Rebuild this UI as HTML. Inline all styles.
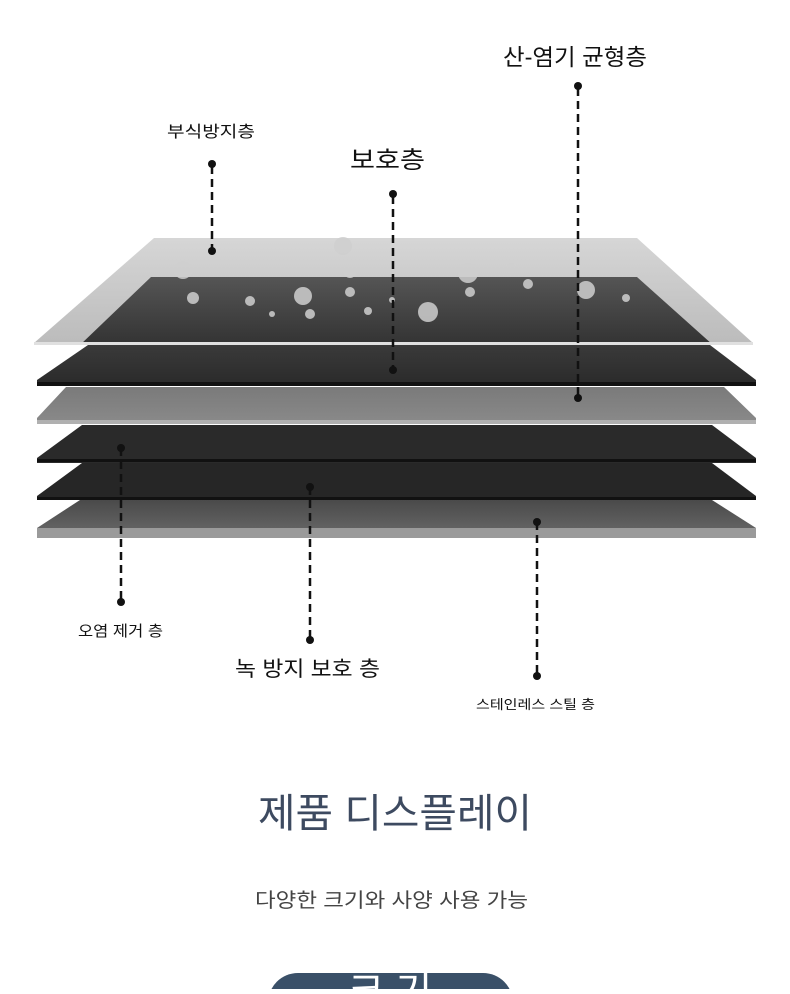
<!DOCTYPE html>
<html><head><meta charset="utf-8"><style>
body{margin:0;width:790px;height:989px;overflow:hidden;background:#fff;font-family:"Liberation Sans","Noto Sans CJK KR",sans-serif;}
</style></head><body>
<svg width="790" height="989" viewBox="0 0 790 989" xmlns="http://www.w3.org/2000/svg" font-family="'Liberation Sans','Noto Sans CJK KR',sans-serif">
<defs>
<linearGradient id="glass" x1="0" y1="0" x2="0" y2="1"><stop offset="0" stop-color="#d4d4d4"/><stop offset="1" stop-color="#b8b8b8"/></linearGradient>
<linearGradient id="dk" x1="0" y1="0" x2="0" y2="1"><stop offset="0" stop-color="#3a3a3a"/><stop offset="1" stop-color="#2a2a2a"/></linearGradient>
<linearGradient id="plate" x1="0" y1="0" x2="0" y2="1"><stop offset="0" stop-color="#555"/><stop offset="1" stop-color="#333"/></linearGradient>
<linearGradient id="gr" x1="0" y1="0" x2="0" y2="1"><stop offset="0" stop-color="#7a7a7a"/><stop offset="1" stop-color="#8a8a8a"/></linearGradient>
<linearGradient id="st" x1="0" y1="0" x2="0" y2="1"><stop offset="0" stop-color="#4a4a4a"/><stop offset="1" stop-color="#6a6a6a"/></linearGradient>
</defs>
<polygon points="80,500 712,500 756,528 756,538 37,538 37,528" fill="url(#st)"/>
<rect x="37" y="528" width="719" height="10" fill="#9a9a9a"/>
<polygon points="82,463 712,463 756,496 756,500 37,500 37,496" fill="#262626"/>
<rect x="37" y="497" width="719" height="3" fill="#111"/>
<polygon points="82,425 712,425 756,458 756,463 37,463 37,458" fill="#2a2a2a"/>
<rect x="37" y="459" width="719" height="3" fill="#111"/>
<polygon points="66,387 724,387 756,418 756,424 37,424 37,418" fill="url(#gr)"/>
<rect x="37" y="420" width="719" height="4" fill="#b0b0b0"/>
<polygon points="88,345 710,345 756,380 756,386 37,386 37,380" fill="url(#dk)"/>
<rect x="37" y="382" width="719" height="4" fill="#111"/>
<polygon points="154,238 637,238 753,343 34,343" fill="url(#glass)" opacity="0.95"/>
<polygon points="151,277 637,277 713,345 80,345" fill="url(#plate)"/>
<rect x="34" y="342" width="719" height="3" fill="#e0e0e0"/>
<g fill="#cfcfcf" opacity="0.85">
<circle cx="343" cy="246" r="9"/><circle cx="183" cy="270" r="9"/><circle cx="350" cy="272" r="6"/><circle cx="468" cy="273" r="10"/><circle cx="511" cy="268" r="5"/>
<circle cx="303" cy="296" r="9"/><circle cx="193" cy="298" r="6"/><circle cx="350" cy="292" r="5"/><circle cx="428" cy="312" r="10"/><circle cx="586" cy="290" r="9"/>
<circle cx="470" cy="292" r="5"/><circle cx="528" cy="284" r="5"/><circle cx="250" cy="301" r="5"/><circle cx="310" cy="314" r="5"/><circle cx="368" cy="311" r="4"/><circle cx="626" cy="298" r="4"/><circle cx="272" cy="314" r="3"/><circle cx="392" cy="300" r="3"/>
</g>
<g stroke="#111" stroke-width="2.5" stroke-dasharray="8,5" fill="none">
<line x1="212" y1="166" x2="212" y2="250"/>
<line x1="393" y1="196" x2="393" y2="370"/>
<line x1="578" y1="88" x2="578" y2="398"/>
<line x1="121" y1="448" x2="121" y2="602"/>
<line x1="310" y1="487" x2="310" y2="640"/>
<line x1="537" y1="522" x2="537" y2="676"/>
</g>
<g fill="#111">
<circle cx="212" cy="164" r="4"/><circle cx="212" cy="251" r="4"/>
<circle cx="393" cy="194" r="4"/><circle cx="393" cy="370" r="4"/>
<circle cx="578" cy="86" r="4"/><circle cx="578" cy="398" r="4"/>
<circle cx="121" cy="448" r="4"/><circle cx="121" cy="602" r="4"/>
<circle cx="310" cy="487" r="4"/><circle cx="310" cy="640" r="4"/>
<circle cx="537" cy="522" r="4"/><circle cx="537" cy="676" r="4"/>
</g>
<g fill="#111">
<text x="167" y="137" font-size="16" textLength="88" lengthAdjust="spacingAndGlyphs">부식방지층</text>
<text x="350" y="168" font-size="24" textLength="75" lengthAdjust="spacingAndGlyphs">보호층</text>
<text x="503" y="65" font-size="23" textLength="144" lengthAdjust="spacingAndGlyphs">산-염기 균형층</text>
<text x="78" y="636" font-size="15" textLength="85" lengthAdjust="spacingAndGlyphs">오염 제거 층</text>
<text x="235" y="676" font-size="21" textLength="145" lengthAdjust="spacingAndGlyphs">녹 방지 보호 층</text>
<text x="476" y="709" font-size="13" textLength="119" lengthAdjust="spacingAndGlyphs">스테인레스 스틸 층</text>
</g>
<text x="258" y="827" font-size="40" fill="#3d4a60" textLength="274" lengthAdjust="spacingAndGlyphs">제품 디스플레이</text>
<text x="255" y="907" font-size="20" fill="#444" textLength="273" lengthAdjust="spacingAndGlyphs">다양한 크기와 사양 사용 가능</text>
<rect x="268" y="973" width="245" height="60" rx="30" fill="#3a5068"/>
<text x="390" y="1005" font-size="40" fill="#fff" text-anchor="middle">크 기</text>
</svg>
</body></html>
